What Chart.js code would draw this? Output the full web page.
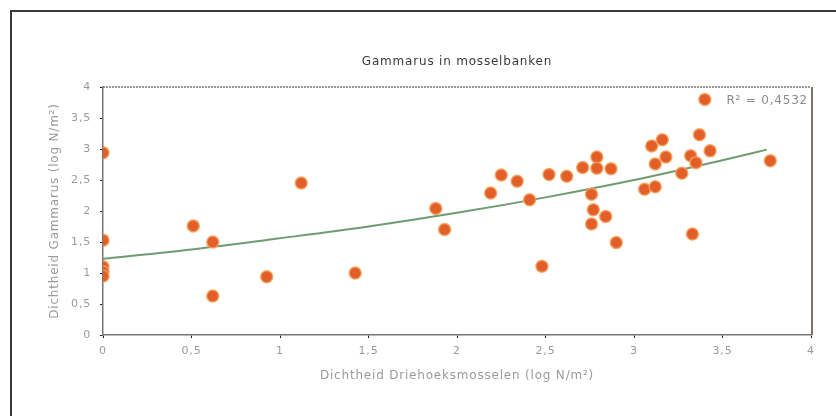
<!DOCTYPE html>
<html>
<head>
<meta charset="utf-8">
<script src="https://cdn.jsdelivr.net/npm/chart.js@4"></script>
<style>
  html, body { margin: 0; padding: 0; background: #fff; overflow: hidden; }
  #wrap { position: relative; width: 836px; height: 416px; }
  #frame { position: absolute; left: 10px; top: 10px; width: 900px; height: 500px;
           border: 2px solid #3a3a3a; box-sizing: border-box; }
  canvas { position: absolute; left: 0; top: 0; }
</style>
</head>
<body>
<div id="wrap">
  <div id="frame"></div>
  <canvas id="c" width="836" height="416"></canvas>
</div>
<script>
// Density of zebra mussels (x) vs. Gammarus (y), both log N/m²
const musselDensity = [0, 0, 0, 0, 0, 0.51, 0.62, 0.62, 0.925, 1.12, 1.425, 1.88, 1.93, 2.19, 2.25, 2.34, 2.41, 2.48, 2.52, 2.62,
  2.71, 2.79, 2.79, 2.87, 2.76, 2.77, 2.76, 2.84, 2.90, 3.06, 3.12, 3.10, 3.16, 3.12, 3.18, 3.27, 3.32, 3.35, 3.37, 3.43, 3.33, 3.40, 3.77];
const gammarusDensity = [2.94, 1.53, 1.10, 1.02, 0.95, 1.76, 1.50, 0.63, 0.94, 2.45, 1.00, 2.04, 1.70, 2.29, 2.58, 2.48, 2.18, 1.11, 2.59, 2.56,
  2.70, 2.87, 2.69, 2.68, 2.27, 2.02, 1.79, 1.91, 1.49, 2.35, 2.39, 3.05, 3.15, 2.76, 2.87, 2.61, 2.89, 2.78, 3.23, 2.97, 1.63, 3.80, 2.81];

// Trendline samples
const trendX = [0, 0.5, 1, 1.5, 2, 2.5, 3, 3.5, 3.75];
const trendY = [1.23, 1.38, 1.56, 1.75, 1.97, 2.22, 2.50, 2.82, 2.99];

const axisTicks = [0, 0.5, 1, 1.5, 2, 2.5, 3, 3.5, 4];
const rSquaredLabel = 'R² = 0,4532';

const fmt = v => String(v).replace('.', ',');

// loose letter spacing for all canvas text
const spacingPlugin = {
  id: 'spacing',
  beforeInit(chart) { chart.ctx.letterSpacing = '0.8px'; },
  beforeDraw(chart) { chart.ctx.letterSpacing = '0.8px'; }
};

const framePlugin = {
  id: 'frame',
  afterDatasetsDraw(chart) {
    const { ctx, chartArea: a } = chart;
    ctx.save();
    // dotted top edge
    ctx.strokeStyle = '#777';
    ctx.lineWidth = 1.5;
    ctx.setLineDash([2, 1]);
    ctx.beginPath();
    ctx.moveTo(a.left, a.top);
    ctx.lineTo(a.right, a.top);
    ctx.stroke();
    // solid right edge
    ctx.setLineDash([]);
    ctx.strokeStyle = '#7d746f';
    ctx.lineWidth = 2;
    ctx.beginPath();
    ctx.moveTo(a.right + 1, a.top);
    ctx.lineTo(a.right + 1, a.bottom);
    ctx.stroke();
    // R² annotation
    ctx.fillStyle = '#8c8c8c';
    ctx.font = '12px "DejaVu Sans"';
    ctx.textAlign = 'right';
    ctx.textBaseline = 'middle';
    ctx.fillText(rSquaredLabel, a.right - 3, a.top + 14);
    ctx.restore();
  }
};

const tickColor = '#9a9a9a';
const tickFont = { family: 'DejaVu Sans', size: 11 };

new Chart(document.getElementById('c'), {
  type: 'scatter',
  data: {
    datasets: [
      {
        label: 'Gammarus',
        data: musselDensity.map((x, i) => ({ x, y: gammarusDensity[i] })),
        backgroundColor: '#e35f2a',
        borderColor: 'rgba(245,160,90,0.85)',
        borderWidth: 1.5,
        pointRadius: 6,
        pointHoverRadius: 6
      },
      {
        label: 'Trend',
        data: trendX.map((x, i) => ({ x, y: trendY[i] })),
        showLine: true,
        borderColor: '#6f9b70',
        borderWidth: 2,
        pointRadius: 0,
        cubicInterpolationMode: 'monotone',
        fill: false
      }
    ]
  },
  options: {
    responsive: false,
    animation: false,
    layout: { padding: { left: 0, right: 25, top: 0, bottom: 31 } },
    plugins: {
      legend: { display: false },
      tooltip: { enabled: false },
      title: {
        display: true,
        text: 'Gammarus in mosselbanken',
        fullSize: false,
        color: '#3a3a3a',
        font: { family: 'DejaVu Sans', size: 12, weight: 'normal', lineHeight: 1.2 },
        padding: { top: 55, bottom: 17.6 }
      }
    },
    scales: {
      x: {
        type: 'linear',
        min: 0, max: 4,
        afterBuildTicks: s => { s.ticks = axisTicks.map(v => ({ value: v })); },
        afterFit: s => { s.height = 50; },
        ticks: { color: tickColor, font: tickFont, padding: 7, callback: fmt, maxRotation: 0 },
        grid: { drawOnChartArea: false, drawTicks: true, tickLength: 3, color: '#222' },
        border: { display: true, color: '#777', width: 1.5, dash: [2, 1] },
        title: {
          display: true,
          text: 'Dichtheid Driehoeksmosselen (log N/m²)',
          color: tickColor,
          font: { family: 'DejaVu Sans', size: 12 },
          padding: { top: 0, bottom: 2 }
        }
      },
      y: {
        type: 'linear',
        min: 0, max: 4,
        afterBuildTicks: s => { s.ticks = axisTicks.map(v => ({ value: v })); },
        afterFit: s => { s.width = 103; },
        ticks: { color: tickColor, font: tickFont, padding: 9, callback: fmt },
        grid: { drawOnChartArea: false, drawTicks: true, tickLength: 3, color: '#222' },
        border: { display: true, color: '#777', width: 1.5, dash: [2, 1] },
        title: {
          display: true,
          text: 'Dichtheid Gammarus (log N/m²)',
          color: tickColor,
          font: { family: 'DejaVu Sans', size: 12 },
          padding: { top: 48, bottom: 0 }
        }
      }
    }
  },
  plugins: [spacingPlugin, framePlugin]
});
</script>
</body>
</html>
